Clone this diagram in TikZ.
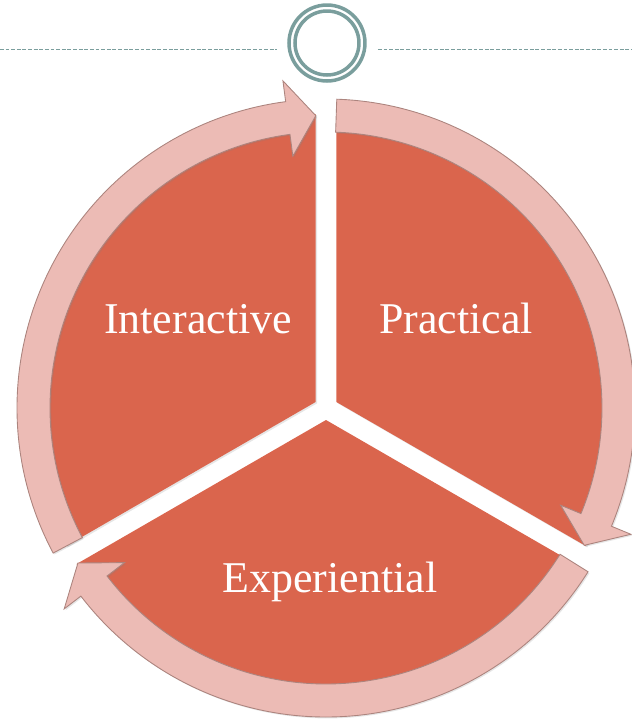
\documentclass[tikz,border=0pt]{standalone}
\usepackage{fontspec}
\setmainfont{Liberation Serif}
\usetikzlibrary{shadows}
\definecolor{segred}{RGB}{218,101,77}
\definecolor{ringpink}{RGB}{236,187,181}
\definecolor{ringedge}{RGB}{172,132,126}
\definecolor{orngray}{RGB}{122,158,157}

\begin{document}
\begin{tikzpicture}[x=0.02cm,y=0.02cm,
		segpie/.style={fill=segred, drop shadow={opacity=.2, shadow xshift=.8pt, shadow yshift=-.8pt}},
		ringarrow/.style={fill=ringpink, draw=ringedge, line width=.5pt, line join=miter, drop shadow={opacity=.2, shadow xshift=.8pt, shadow yshift=-.8pt}},
		seglabel/.style={text=white, anchor=base, font=\fontsize{25}{30}\selectfont}]
			\useasboundingbox (-326,-317) rectangle (306,408);
			% pie segments
			\foreach \a in {90,-30,210}
				\fill[segpie] ({\a+60}:12) -- +(\a:288) arc[start angle=\a, end angle=\a+120, radius=288] -- cycle;
			% curved arrows round the pie
			\foreach \t [evaluate=\t as \b using \t-110.5, evaluate=\t as \p using \t-116] in {208,88,-32}
				\draw[ringarrow] (\t:309) arc[start angle=\t, end angle=\b, radius=309] -- (\b:330) -- (\p:292.5) -- (\b:254) -- (\b:276) arc[start angle=\b, end angle=\t, radius=276] -- cycle;
			\node at (-128,75) [seglabel] (Int) {Interactive};
			\node at (130,75) [seglabel] (Pra) {Practical};
			\node at (4,-184) [seglabel] (Exp) {Experiential};
			% ornament on top
			\node at (1,365) [circle, draw=orngray, line width=2pt, minimum size=1.52cm] (Orn) {};
			\node at (Orn) [circle, draw=orngray, line width=2pt, minimum size=1.28cm] (OrnIn) {};
			\coordinate (DL1) at (-326,359);
			\coordinate (DL2) at (-49,359);
			\coordinate (DR1) at (52,359);
			\coordinate (DR2) at (306,359);
			\draw[orngray, line width=.5pt, dash pattern=on 2.2pt off 1pt] (DL1) -- (DL2);
			\draw[orngray, line width=.5pt, dash pattern=on 2.2pt off 1pt] (DR1) -- (DR2);
		\end{tikzpicture}
\end{document}
